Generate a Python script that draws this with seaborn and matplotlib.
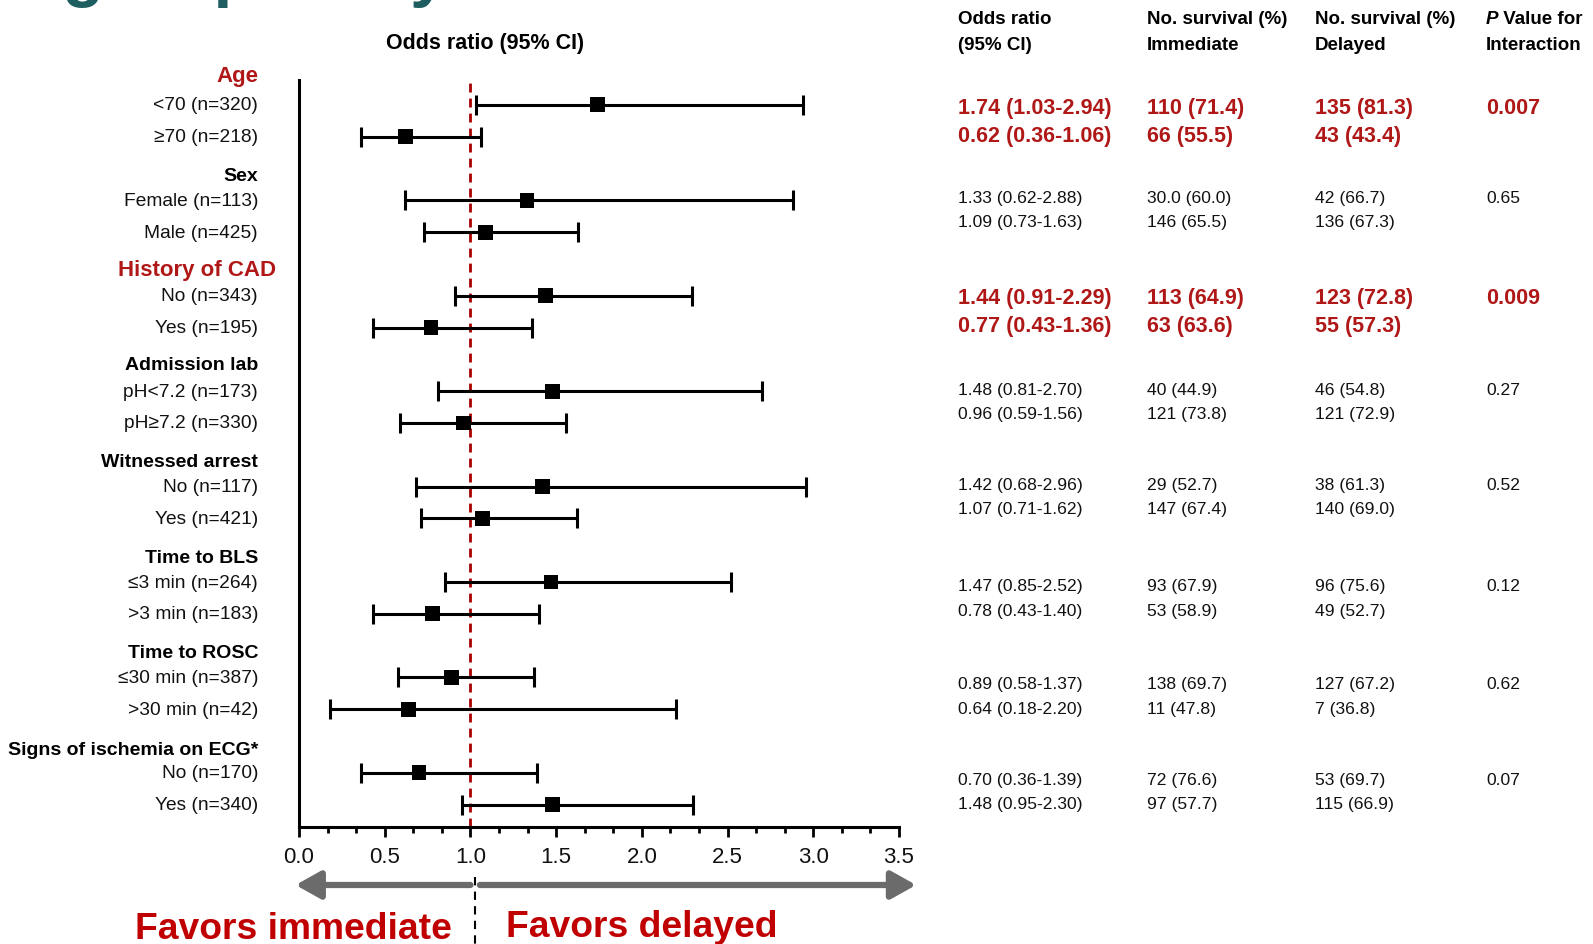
import numpy as np
import pandas as pd
import seaborn as sns
import matplotlib
matplotlib.use('Agg')
import matplotlib.pyplot as plt
import matplotlib.transforms as mtransforms
from matplotlib.lines import Line2D
from matplotlib.ticker import MultipleLocator, FormatStrFormatter

# subgroup data
groups = ["Age", "Sex", "History of CAD", "Admission lab", "Witnessed arrest",
          "Time to BLS", "Time to ROSC", "Signs of ischemia on ECG*"]
sub_labels = [["<70 (n=320)", "\u226570 (n=218)"],
              ["Female (n=113)", "Male (n=425)"],
              ["No (n=343)", "Yes (n=195)"],
              ["pH<7.2 (n=173)", "pH\u22657.2 (n=330)"],
              ["No (n=117)", "Yes (n=421)"],
              ["\u22643 min (n=264)", ">3 min (n=183)"],
              ["\u226430 min (n=387)", ">30 min (n=42)"],
              ["No (n=170)", "Yes (n=340)"]]
odds = [1.74, 0.62, 1.33, 1.09, 1.44, 0.77, 1.48, 0.96,
        1.42, 1.07, 1.47, 0.78, 0.89, 0.64, 0.70, 1.48]
ci_low = [1.03, 0.36, 0.62, 0.73, 0.91, 0.43, 0.81, 0.59,
          0.68, 0.71, 0.85, 0.43, 0.58, 0.18, 0.36, 0.95]
ci_high = [2.94, 1.06, 2.88, 1.63, 2.29, 1.36, 2.70, 1.56,
           2.96, 1.62, 2.52, 1.40, 1.37, 2.20, 1.39, 2.30]
surv_immediate = ["110 (71.4)", "66 (55.5)", "30.0 (60.0)", "146 (65.5)",
                  "113 (64.9)", "63 (63.6)", "40 (44.9)", "121 (73.8)",
                  "29 (52.7)", "147 (67.4)", "93 (67.9)", "53 (58.9)",
                  "138 (69.7)", "11 (47.8)", "72 (76.6)", "97 (57.7)"]
surv_delayed = ["135 (81.3)", "43 (43.4)", "42 (66.7)", "136 (67.3)",
                "123 (72.8)", "55 (57.3)", "46 (54.8)", "121 (72.9)",
                "38 (61.3)", "140 (69.0)", "96 (75.6)", "49 (52.7)",
                "127 (67.2)", "7 (36.8)", "53 (69.7)", "115 (66.9)"]
p_interaction = ["0.007", "0.65", "0.009", "0.27", "0.52", "0.12", "0.62", "0.07"]

RED = '#B01818'
W, H = 1593, 945

sns.set_theme(style='white')
plt.rcParams['font.family'] = ['Liberation Sans', 'DejaVu Sans']
plt.rcParams['text.color'] = 'black'

rows = []
for g in range(len(groups)):
    for j in range(2):
        k = 2 * g + j
        rows.append(dict(y=3 * g + j, label=sub_labels[g][j], odds=odds[k],
                         lo=ci_low[k], hi=ci_high[k]))
df = pd.DataFrame(rows)

fig = plt.figure(figsize=(W / 100, H / 100), dpi=100)
ax = fig.add_axes([299 / W, 1 - 828 / H, 600 / W, (828 - 81) / H])

ax.errorbar(df['odds'], df['y'], xerr=[df['odds'] - df['lo'], df['hi'] - df['odds']],
            fmt='none', ecolor='black', elinewidth=2.2, capsize=7, capthick=2.2, zorder=2)
sns.scatterplot(data=df, x='odds', y='y', marker='s', s=115, color='black',
                edgecolor='none', ax=ax, zorder=3)
ax.axvline(1, color='#A80000', ls=(0, (3.2, 2.2)), lw=2.0, zorder=1)

ax.set_xlim(0, 3.5)
ax.set_ylim(22.7, -0.78)
ax.set_yticks([])
ax.set_xlabel('')
ax.set_ylabel('')
ax.xaxis.set_major_locator(MultipleLocator(0.5))
ax.xaxis.set_minor_locator(MultipleLocator(0.5 / 3))
ax.xaxis.set_major_formatter(FormatStrFormatter('%.1f'))
ax.tick_params(axis='x', which='both', bottom=True, direction='out', color='black', width=2)
ax.tick_params(axis='x', which='major', length=7, labelsize=16, pad=7, labelcolor='#111111')
ax.tick_params(axis='x', which='minor', length=4.5)
sns.despine(ax=ax)
for s in ['left', 'bottom']:
    ax.spines[s].set_color('black')
    ax.spines[s].set_linewidth(2.2)

# left labels
trans = mtransforms.blended_transform_factory(fig.transFigure, ax.transData)
header_right = [258, 258, 276, 258, 258, 258, 258, 258]
header_shift = [-0.91, -0.78, -0.82, -0.84, -0.79, -0.77, -0.79, -0.74]
for g, name in enumerate(groups):
    hl = float(p_interaction[g]) < 0.05
    ax.text(header_right[g] / W, 3 * g + header_shift[g], name, transform=trans,
            ha='right', va='center', fontsize=16 if hl else 14, fontweight='bold',
            color=RED if hl else 'black')
for _, r in df.iterrows():
    ax.text(258 / W, r['y'], r['label'], transform=trans, ha='right', va='center',
            fontsize=13.8, color='#111111')

fig.text(485 / W, 1 - 43 / H, "Odds ratio (95% CI)", ha='center', va='center',
         fontsize=15.5, fontweight='bold')

# table
col_x = [958 / W, 1147 / W, 1315 / W, 1486 / W]
hy1, hy2 = 1 - 20 / H, 1 - 45 / H
fig.text(col_x[0], hy1, "Odds ratio", fontsize=13.5, fontweight='bold', va='center')
fig.text(col_x[0], hy2, "(95% CI)", fontsize=13.5, fontweight='bold', va='center')
fig.text(col_x[1], hy1, "No. survival (%)", fontsize=13.5, fontweight='bold', va='center')
fig.text(col_x[1], hy2, "Immediate", fontsize=13.5, fontweight='bold', va='center')
fig.text(col_x[2], hy1, "No. survival (%)", fontsize=13.5, fontweight='bold', va='center')
fig.text(col_x[2], hy2, "Delayed", fontsize=13.5, fontweight='bold', va='center')
tp = fig.text(col_x[3], hy1, "P", fontsize=13.5, fontweight='bold',
              fontstyle='italic', va='center')
ax.annotate(" Value for", xy=(1, 0.5), xycoords=tp, va='center', ha='left',
            fontsize=13.5, fontweight='bold', annotation_clip=False)
fig.text(col_x[3], hy2, "Interaction", fontsize=13.5, fontweight='bold', va='center')

table_shift = [0, -0.1, 0, -0.06, -0.06, 0.12, 0.2, 0.2]
for g in range(len(groups)):
    hl = float(p_interaction[g]) < 0.05
    if hl:
        ys = [3 * g + 0.07, 3 * g + 0.95]
        kw = dict(fontsize=15.5, fontweight='bold', color=RED)
    else:
        ys = [3 * g + table_shift[g], 3 * g + table_shift[g] + 0.76]
        kw = dict(fontsize=12.6, color='#111111')
    for j in range(2):
        k = 2 * g + j
        vals = ["%.2f (%.2f-%.2f)" % (odds[k], ci_low[k], ci_high[k]),
                surv_immediate[k], surv_delayed[k]]
        if j == 0:
            vals.append(p_interaction[g])
        for c, v in enumerate(vals):
            ax.text(col_x[c], ys[j], v, transform=trans, ha='left', va='center', **kw)

# arrows and favour labels under the axis
arr_trans = mtransforms.blended_transform_factory(ax.transData, fig.transFigure)
ya = 1 - 886 / H
aprops = dict(arrowstyle='-|>,head_length=0.75,head_width=0.42', lw=4.5,
              color='#6B6B6B', shrinkA=0, shrinkB=0, mutation_scale=20)
ax.annotate('', xy=(-0.02, ya), xytext=(1.0, ya), xycoords=arr_trans,
            textcoords=arr_trans, arrowprops=aprops, annotation_clip=False)
ax.annotate('', xy=(3.6, ya), xytext=(1.055, ya), xycoords=arr_trans,
            textcoords=arr_trans, arrowprops=aprops, annotation_clip=False)
fig.add_artist(Line2D([1.025, 1.025], [1 - 878 / H, 0], transform=arr_trans,
                      color='black', lw=1.5, ls=(0, (4, 3))))
fig.text(452 / W, 1 - 930 / H, "Favors immediate", ha='right', va='center',
         fontsize=26.8, fontweight='bold', color='#C00000')
fig.text(506 / W, 1 - 928 / H, "Favors delayed", ha='left', va='center',
         fontsize=26.8, fontweight='bold', color='#C00000')

# slide title, mostly cropped off at the top
fig.text(-66 / W, 1 + 6 / H, "Subgroup analysis", ha='left', va='baseline',
         fontsize=49, fontweight='bold', color='#1E5E60')

fig.savefig('out.png', dpi=100)
